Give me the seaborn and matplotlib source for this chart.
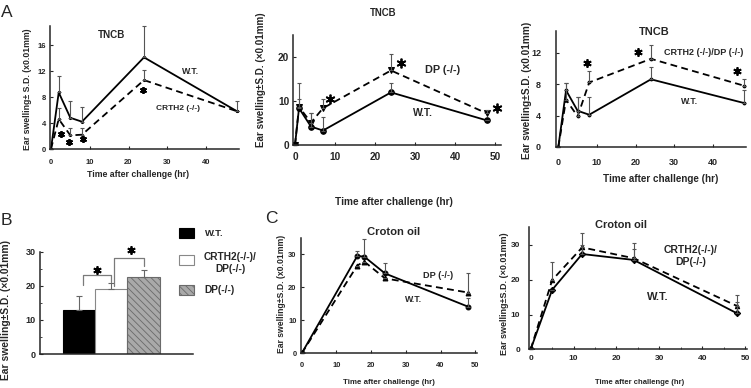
import numpy as np
import pandas as pd
import matplotlib
matplotlib.use("Agg")
import matplotlib.pyplot as plt
import seaborn as sns
from matplotlib.patches import Rectangle
from matplotlib.ticker import MultipleLocator

# ---- panel A (TNCB) ----
a1_time = [0, 2, 5, 8, 24, 48]
a1_wt = [0, 8.7, 4.8, 4.2, 14.1, 5.8]
a1_wt_top = [0, 11.3, 7.4, 6.5, 18.9, 7.4]
a1_crth2 = [0, 4.6, 2.1, 2.2, 10.6, 5.8]
a1_crth2_top = [0, 6.3, 3.2, 3.2, 12.2, 5.8]
a1_star_x = [2.6, 4.7, 8.3, 23.8]
a1_star_y = [2.3, 1.1, 1.5, 9.1]

a2_time = [0, 1, 4, 7, 24, 48]
a2_wt = [0, 8.4, 4.2, 3.3, 12.0, 5.6]
a2_wt_top = [0, 10.6, 7.2, 6.3, 14.1, 5.6]
a2_dp = [0, 8.7, 5.1, 8.4, 17.0, 7.2]
a2_dp_top = [0, 14.1, 7.2, 10.5, 20.7, 8.0]
a2_star_x = [8.75, 26.4, 50.4]
a2_star_y = [10.5, 18.6, 8.4]

a3_time = [0, 2, 5, 8, 24, 48]
a3_wt = [0, 7.2, 4.6, 4.1, 8.6, 5.6]
a3_wt_top = [0, 8.1, 6.3, 6.4, 10.1, 7.3]
a3_dko = [0, 6.0, 3.9, 8.2, 11.2, 7.8]
a3_dko_top = [0, 8.1, 6.3, 9.7, 13.0, 8.7]
a3_star_x = [7.3, 20.6, 46.4]
a3_star_y = [10.7, 12.1, 9.6]

# ---- panel B ----
b_groups = ["W.T.", "CRTH2(-/-)/DP(-/-)", "DP(-/-)"]
b_mean = [13.0, 19.2, 22.5]
b_top = [17.0, 20.8, 24.7]
b_colors = ["black", "white", "#a9a9a9"]
# bracket: left x, right x, left foot, right foot, top
b_brackets = [(0.12, 1.0, 20.3, 21.0, 23.2), (1.1, 2.0, 20.0, 25.9, 28.1)]
b_star_x = [0.57, 1.6]
b_star_y = [24.7, 30.4]

# ---- panel C (croton oil) ----
c1_time = [0, 16, 18, 24, 48]
c1_wt = [0, 29.5, 29.3, 24.2, 14.1]
c1_wt_top = [0, 31.0, 34.5, 27.3, 16.9]
c1_dp = [0, 26.6, 27.8, 22.7, 18.4]
c1_dp_top = [0, 26.6, 27.8, 22.7, 24.2]

c2_time = [0, 5, 12, 24, 48]
c2_wt = [0, 17.1, 27.4, 25.7, 10.4]
c2_wt_top = [0, 17.1, 30.0, 28.8, 13.7]
c2_dko = [0, 19.9, 29.3, 26.2, 12.5]
c2_dko_top = [0, 25.2, 33.4, 30.7, 15.6]

sns.set_style("ticks")
plt.rcParams["font.family"] = ["Liberation Sans", "DejaVu Sans"]
plt.rcParams["hatch.linewidth"] = 0.6

W, H = 751, 388
fig = plt.figure(figsize=(W / 100, H / 100), dpi=100)


def fx(px):
    return px / W


def fy(py):
    return 1 - py / H


def pane(left, top, right, bottom):
    ax = fig.add_axes([fx(left), fy(bottom), (right - left) / W, (bottom - top) / H])
    sns.despine(ax=ax)
    for s in ("left", "bottom"):
        ax.spines[s].set_linewidth(1.1)
    return ax


def put(x, y, s, size, **kw):
    kw.setdefault("ha", "center")
    kw.setdefault("va", "center")
    kw.setdefault("fontweight", "bold")
    fig.text(fx(x), fy(y), s, fontsize=size, **kw)


def style_axis(ax, tick_size, xpad, ypad, xlabel, xl_pos, xl_size, ylabel, yl_pos, yl_size):
    ax.tick_params(direction="in", length=2.5, width=0.8, labelsize=tick_size)
    ax.tick_params(axis="x", pad=xpad)
    ax.tick_params(axis="y", pad=ypad)
    for lab in ax.get_xticklabels() + ax.get_yticklabels():
        lab.set_fontweight("bold")
    ax.set_xlabel(xlabel, fontsize=xl_size, fontweight="bold")
    ax.xaxis.set_label_coords(fx(xl_pos[0]), fy(xl_pos[1]), transform=fig.transFigure)
    ax.xaxis.label.set_va("center")
    ax.set_ylabel(ylabel, fontsize=yl_size, fontweight="bold")
    ax.yaxis.set_label_coords(fx(yl_pos[0]), fy(yl_pos[1]), transform=fig.transFigure)
    ax.yaxis.label.set_va("center")


def trace(ax, time, wt, wt_top, ko, ko_top, ko_name, marks, msize):
    df = pd.DataFrame({
        "time": list(time) * 2,
        "swelling": list(wt) + list(ko),
        "group": ["W.T."] * len(time) + [ko_name] * len(time),
    })
    sns.lineplot(data=df, x="time", y="swelling", style="group",
                 style_order=["W.T.", ko_name], dashes=["", (3.8, 2.4)],
                 markers=marks, color="black", linewidth=1.3, markersize=msize,
                 markeredgecolor="black", legend=False, errorbar=None, ax=ax)
    for y, top in ((wt, wt_top), (ko, ko_top)):
        y = np.array(y, dtype=float)
        up = np.array(top, dtype=float) - y
        ax.errorbar(time, y, yerr=[np.zeros_like(up), up], fmt="none",
                    ecolor="#555555", elinewidth=0.8, capsize=1.5, capthick=0.8,
                    clip_on=False)


def stars(ax, xs, ys, size):
    ax.plot(xs, ys, ls="none", marker=(6, 2, 0), ms=size, mew=1.3,
            color="black", clip_on=False)


ylab_x = "Ear swelling\u00b1S.D. (x0.01mm)"
ylab_times = "Ear swelling\u00b1S.D. (\u00d70.01mm)"
xlab = "Time after challenge (hr)"

# A1
ax = pane(49.8, 25.5, 239, 149)
trace(ax, a1_time, a1_wt, a1_wt_top, a1_crth2, a1_crth2_top, "CRTH2 (-/-)", ["o", "o"], 1.5)
stars(ax, a1_star_x, a1_star_y, 5)
ax.set_xlim(-0.3, 48.5)
ax.set_ylim(0, 19)
ax.set_xticks([0, 10, 20, 30, 40])
ax.set_yticks([0, 4, 8, 12, 16])
style_axis(ax, 5.5, 7, 3, xlab, (138.3, 175), 6.3,
           "Ear swelling\u00b1 S.D. (x0.01mm)", (28, 89), 6.3)
put(112, 34.7, "TNCB", 7.1)
put(191, 71.7, "W.T.", 6.3)
put(178, 108.3, "CRTH2 (-/-)", 6)
put(1, 16.7, "A", 12.5, ha="left", va="baseline", fontweight="normal")

# A2
ax = pane(293, 35.4, 501, 145)
trace(ax, a2_time, a2_wt, a2_wt_top, a2_dp, a2_dp_top, "DP (-/-)", ["o", "v"], 4)
stars(ax, a2_star_x, a2_star_y, 7)
ax.set_xlim(-0.5, 51.5)
ax.set_ylim(0, 25)
ax.set_xticks([0, 10, 20, 30, 40, 50])
ax.set_yticks([0, 10, 20])
style_axis(ax, 7.3, 5, 2.7, xlab, (394, 202), 7.3, ylab_times, (260.7, 80), 7.1)
put(383, 13, "TNCB", 6.9)
put(443, 70, "DP (-/-)", 7.8)
put(422.5, 113.3, "W.T.", 7.4)

# A3
ax = pane(556.4, 30.5, 746.3, 147)
trace(ax, a3_time, a3_wt, a3_wt_top, a3_dko, a3_dko_top, "CRTH2 (-/-)/DP (-/-)", ["o", "o"], 2)
stars(ax, a3_star_x, a3_star_y, 6)
ax.set_xlim(-0.5, 48.7)
ax.set_ylim(0, 14.8)
ax.set_xticks([0, 10, 20, 30, 40])
ax.set_yticks([0, 4, 8, 12])
style_axis(ax, 6.5, 8, 11, xlab, (661, 179), 7.1, ylab_x, (527, 90), 7.3)
put(654, 31.7, "TNCB", 7.9)
put(664, 52.7, "CRTH2 (-/-)/DP (-/-)", 6.5, ha="left")
put(690, 101.7, "W.T.", 6.3)

# B
ax = pane(40, 251.7, 193, 354)
sns.barplot(x=b_groups, y=b_mean, hue=b_groups, palette=b_colors, width=1,
            legend=False, linewidth=0.8, ax=ax)
for bar, ec in zip(ax.patches, ["black", "#888888", "#6a6a6a"]):
    bar.set_edgecolor(ec)
ax.patches[2].set_hatch("\\\\\\\\\\")
up = np.array(b_top) - np.array(b_mean)
ax.errorbar(range(len(b_mean)), b_mean, yerr=[np.zeros_like(up), up], fmt="none",
            ecolor="#666666", elinewidth=0.8, capsize=2, capthick=0.8)
for x1, x2, y1, y2, top in b_brackets:
    ax.plot([x1, x1, x2, x2], [y1, top, top, y2], color="#7a7a7a", lw=0.9, clip_on=False)
stars(ax, b_star_x, b_star_y, 6)
ax.set_xlim(-1.2, 3.53)
ax.set_ylim(0, 30)
ax.set_xticks([])
ax.set_yticks([0, 10, 20, 30])
ax.yaxis.set_minor_locator(MultipleLocator(5))
ax.tick_params(axis="y", which="minor", direction="in", length=1.5, width=0.6)
style_axis(ax, 6.5, 3, 3, "", (116, 370), 6, ylab_times, (6, 310), 7.4)
put(1, 225, "B", 12.5, ha="left", va="baseline", fontweight="normal")
for top, color, ec, hatch in ((228, "black", "black", None),
                              (255, "white", "#888888", None),
                              (285, "#a9a9a9", "#6a6a6a", "\\\\\\\\\\")):
    fig.add_artist(Rectangle((fx(179), fy(top + 10)), 15 / W, 10 / H,
                             transform=fig.transFigure, facecolor=color,
                             edgecolor=ec, lw=0.8, hatch=hatch))
put(205, 233, b_groups[0], 6.8, ha="left")
put(204, 262.7, "CRTH2(-/-)/\nDP(-/-)", 7.3, ha="left", multialignment="center",
    linespacing=1.3)
put(204, 290, b_groups[2], 7.3, ha="left")

# C1
ax = pane(300.7, 237.8, 477, 353.3)
trace(ax, c1_time, c1_wt, c1_wt_top, c1_dp, c1_dp_top, "DP (-/-)", ["o", "^"], 3.5)
ax.set_xlim(-0.3, 50.5)
ax.set_ylim(0, 35)
ax.set_xticks([0, 10, 20, 30, 40, 50])
ax.set_yticks([0, 10, 20, 30])
style_axis(ax, 5.4, 6.5, 3, xlab, (389.3, 382.7), 5.7, ylab_x, (282, 294), 6.2)
put(394, 232, "Croton oil", 8.1)
put(438, 276, "DP (-/-)", 6.6)
put(413.5, 299.3, "W.T.", 6.3)
put(265, 222.7, "C", 12.5, ha="left", va="baseline", fontweight="normal")

# C2
ax = pane(529.4, 226.9, 746.5, 349.3)
trace(ax, c2_time, c2_wt, c2_wt_top, c2_dko, c2_dko_top, "CRTH2(-/-)/DP(-/-)", ["D", "^"], 3.2)
ax.set_xlim(-0.3, 50.3)
ax.set_ylim(0, 35.2)
ax.set_xticks([0, 10, 20, 30, 40, 50])
ax.xaxis.set_minor_locator(MultipleLocator(5))
ax.tick_params(axis="x", which="minor", direction="in", length=1.5, width=0.6)
ax.set_yticks([0, 10, 20, 30])
style_axis(ax, 6.0, 4, 6.5, xlab, (640, 382.7), 5.5, ylab_times, (505, 293.3), 6.5)
put(620.7, 225, "Croton oil", 7.9)
put(691, 256.3, "CRTH2(-/-)/\nDP(-/-)", 7.5, multialignment="center", linespacing=1.25)
put(658, 297, "W.T.", 8)

fig.savefig("out.png", dpi=100)
